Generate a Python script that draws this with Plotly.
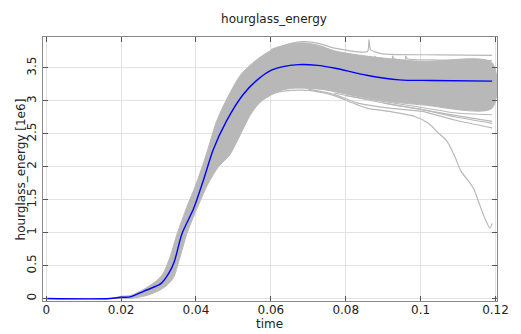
import plotly.graph_objects as go

# ---- data (values in units of 1e6) ----
mean_t = [0, 0.017, 0.02, 0.0224, 0.026, 0.0307, 0.0329, 0.0342, 0.0363, 0.0394, 0.042,
          0.0446, 0.0481, 0.0525, 0.056, 0.0603, 0.0673, 0.0725, 0.0769, 0.0856, 0.0943,
          0.103, 0.1191]
mean_v = [0, 0, 0.02, 0.025, 0.11, 0.23, 0.40, 0.56, 0.99, 1.37, 1.80, 2.26, 2.69, 3.09,
          3.30, 3.47, 3.55, 3.54, 3.50, 3.39, 3.32, 3.31, 3.30]

upper_t = [0, 0.017, 0.02, 0.0224, 0.026, 0.029, 0.031, 0.033, 0.035, 0.0375, 0.0401,
           0.0427, 0.0455, 0.0479, 0.052, 0.0568, 0.0612, 0.066, 0.069, 0.073, 0.077,
           0.0856, 0.1, 0.1191]
upper_v = [0, 0, 0.035, 0.045, 0.14, 0.25, 0.36, 0.62, 0.99, 1.38, 1.75, 2.18, 2.69, 2.99,
           3.40, 3.65, 3.80, 3.87, 3.88, 3.84, 3.76, 3.68, 3.60, 3.58]

lower_t = [0, 0.017, 0.02, 0.023, 0.027, 0.030, 0.032, 0.034, 0.0355, 0.0376, 0.040,
           0.0433, 0.046, 0.049, 0.0516, 0.0538, 0.0568, 0.0612, 0.0655, 0.070, 0.0742,
           0.083, 0.0917, 0.1004, 0.1191]
lower_v = [0, 0, 0.0, 0.005, 0.05, 0.12, 0.19, 0.32, 0.58, 0.99, 1.33, 1.75, 2.0, 2.18,
           2.46, 2.72, 2.96, 3.13, 3.19, 3.19, 3.17, 3.07, 2.99, 2.94, 2.89]

top_t = [0.06, 0.066, 0.069, 0.073, 0.077, 0.0858, 0.0862, 0.0866, 0.088, 0.0905, 0.105, 0.1191]
top_v = [3.78, 3.88, 3.90, 3.87, 3.80, 3.75, 3.93, 3.78, 3.74, 3.71, 3.70, 3.69]

spiky_t = [0.08, 0.0877, 0.0878, 0.0882, 0.0924, 0.0925, 0.0929, 0.0959, 0.096, 0.0964, 0.105, 0.1191]
spiky_v = [3.66, 3.62, 3.68, 3.64, 3.62, 3.68, 3.64, 3.62, 3.68, 3.64, 3.62, 3.61]

outlier_t = [0.05, 0.0533, 0.0559, 0.0612, 0.0655, 0.070, 0.0742, 0.0769, 0.0856, 0.0917,
             0.0986, 0.1021, 0.1048, 0.1069, 0.1091, 0.1108, 0.113, 0.1143, 0.1156, 0.117,
             0.1185, 0.1191]
outlier_v = [2.30, 2.66, 2.95, 3.12, 3.16, 3.16, 3.12, 3.08, 2.89, 2.84, 2.76, 2.66, 2.51,
             2.40, 2.16, 1.93, 1.77, 1.65, 1.45, 1.24, 1.07, 1.14]

lowB_t = [0.07, 0.0769, 0.083, 0.0917, 0.1004, 0.1091, 0.1191]
lowB_v = [3.18, 3.10, 2.97, 2.89, 2.84, 2.71, 2.59]
lowC_t = [0.0769, 0.0917, 0.1004, 0.1091, 0.1191]
lowC_v = [3.12, 2.95, 2.87, 2.76, 2.66]
lowD_t = [0.08, 0.1004, 0.1091, 0.1191]
lowD_v = [3.08, 2.90, 2.82, 2.79]
lowE_t = [0.09, 0.1091, 0.1191]
lowE_v = [2.97, 2.78, 2.69]

x_ticks = [0, 0.02, 0.04, 0.06, 0.08, 0.1, 0.12]
x_labels = ["0", "0.02", "0.04", "0.06", "0.08", "0.1", "0.12"]
y_ticks = [0, 0.5, 1, 1.5, 2, 2.5, 3, 3.5]
y_labels = ["0", "0.5", "1", "1.5", "2", "2.5", "3", "3.5"]

GREY = "rgb(184,184,184)"
FONT = "DejaVu Sans"

fig = go.Figure()

# dense band of runs
fig.add_trace(go.Scatter(
    x=upper_t + lower_t[::-1], y=upper_v + lower_v[::-1],
    fill="toself", fillcolor=GREY, mode="lines",
    line=dict(color=GREY, width=1, shape="spline", smoothing=0.8),
    hoverinfo="skip", showlegend=False))

for tt, vv in [(top_t, top_v), (spiky_t, spiky_v), (outlier_t, outlier_v),
               (lowB_t, lowB_v), (lowC_t, lowC_v), (lowD_t, lowD_v), (lowE_t, lowE_v)]:
    fig.add_trace(go.Scatter(x=tt, y=vv, mode="lines",
                             line=dict(color=GREY, width=1.2, shape="spline", smoothing=0.6),
                             showlegend=False))

fig.add_trace(go.Scatter(x=mean_t, y=mean_v, mode="lines",
                         line=dict(color="#0000ff", width=1.4, shape="spline", smoothing=0.8),
                         showlegend=False))

axis_common = dict(
    showline=True, linecolor="#8a8a8a", linewidth=1, mirror="ticks",
    ticks="inside", ticklen=5, tickcolor="#555555", tickwidth=1,
    showgrid=True, gridcolor="#e3e3e3", gridwidth=1, zeroline=False,
    tickfont=dict(family=FONT, size=12, color="#222222"),
)

fig.update_layout(
    width=521, height=334,
    margin=dict(l=43, r=16, t=37, b=33),
    paper_bgcolor="white", plot_bgcolor="white",
    title=dict(text="hourglass_energy", x=0.526, xanchor="center", y=0.945, yanchor="middle",
               font=dict(family=FONT, size=12, color="#222222")),
    xaxis=dict(range=[-0.00086, 0.1204], tickmode="array", tickvals=x_ticks,
               ticktext=x_labels, ticklabelstandoff=-2, **axis_common),
    yaxis=dict(range=[-0.037, 3.97], tickmode="array", tickvals=y_ticks,
               ticktext=y_labels, tickangle=-90, ticklabelstandoff=1, **axis_common),
    annotations=[
        dict(text="time", xref="paper", yref="paper", x=0.498, y=-0.088,
             xanchor="center", yanchor="middle", showarrow=False,
             font=dict(family=FONT, size=12, color="#222222")),
        dict(text="hourglass_energy [1e6]", xref="paper", yref="paper",
             x=(21 - 43) / 462.5, y=0.5, xanchor="center", yanchor="middle",
             textangle=-90, showarrow=False,
             font=dict(family=FONT, size=12, color="#222222")),
    ],
)

fig.write_html("out.html")
